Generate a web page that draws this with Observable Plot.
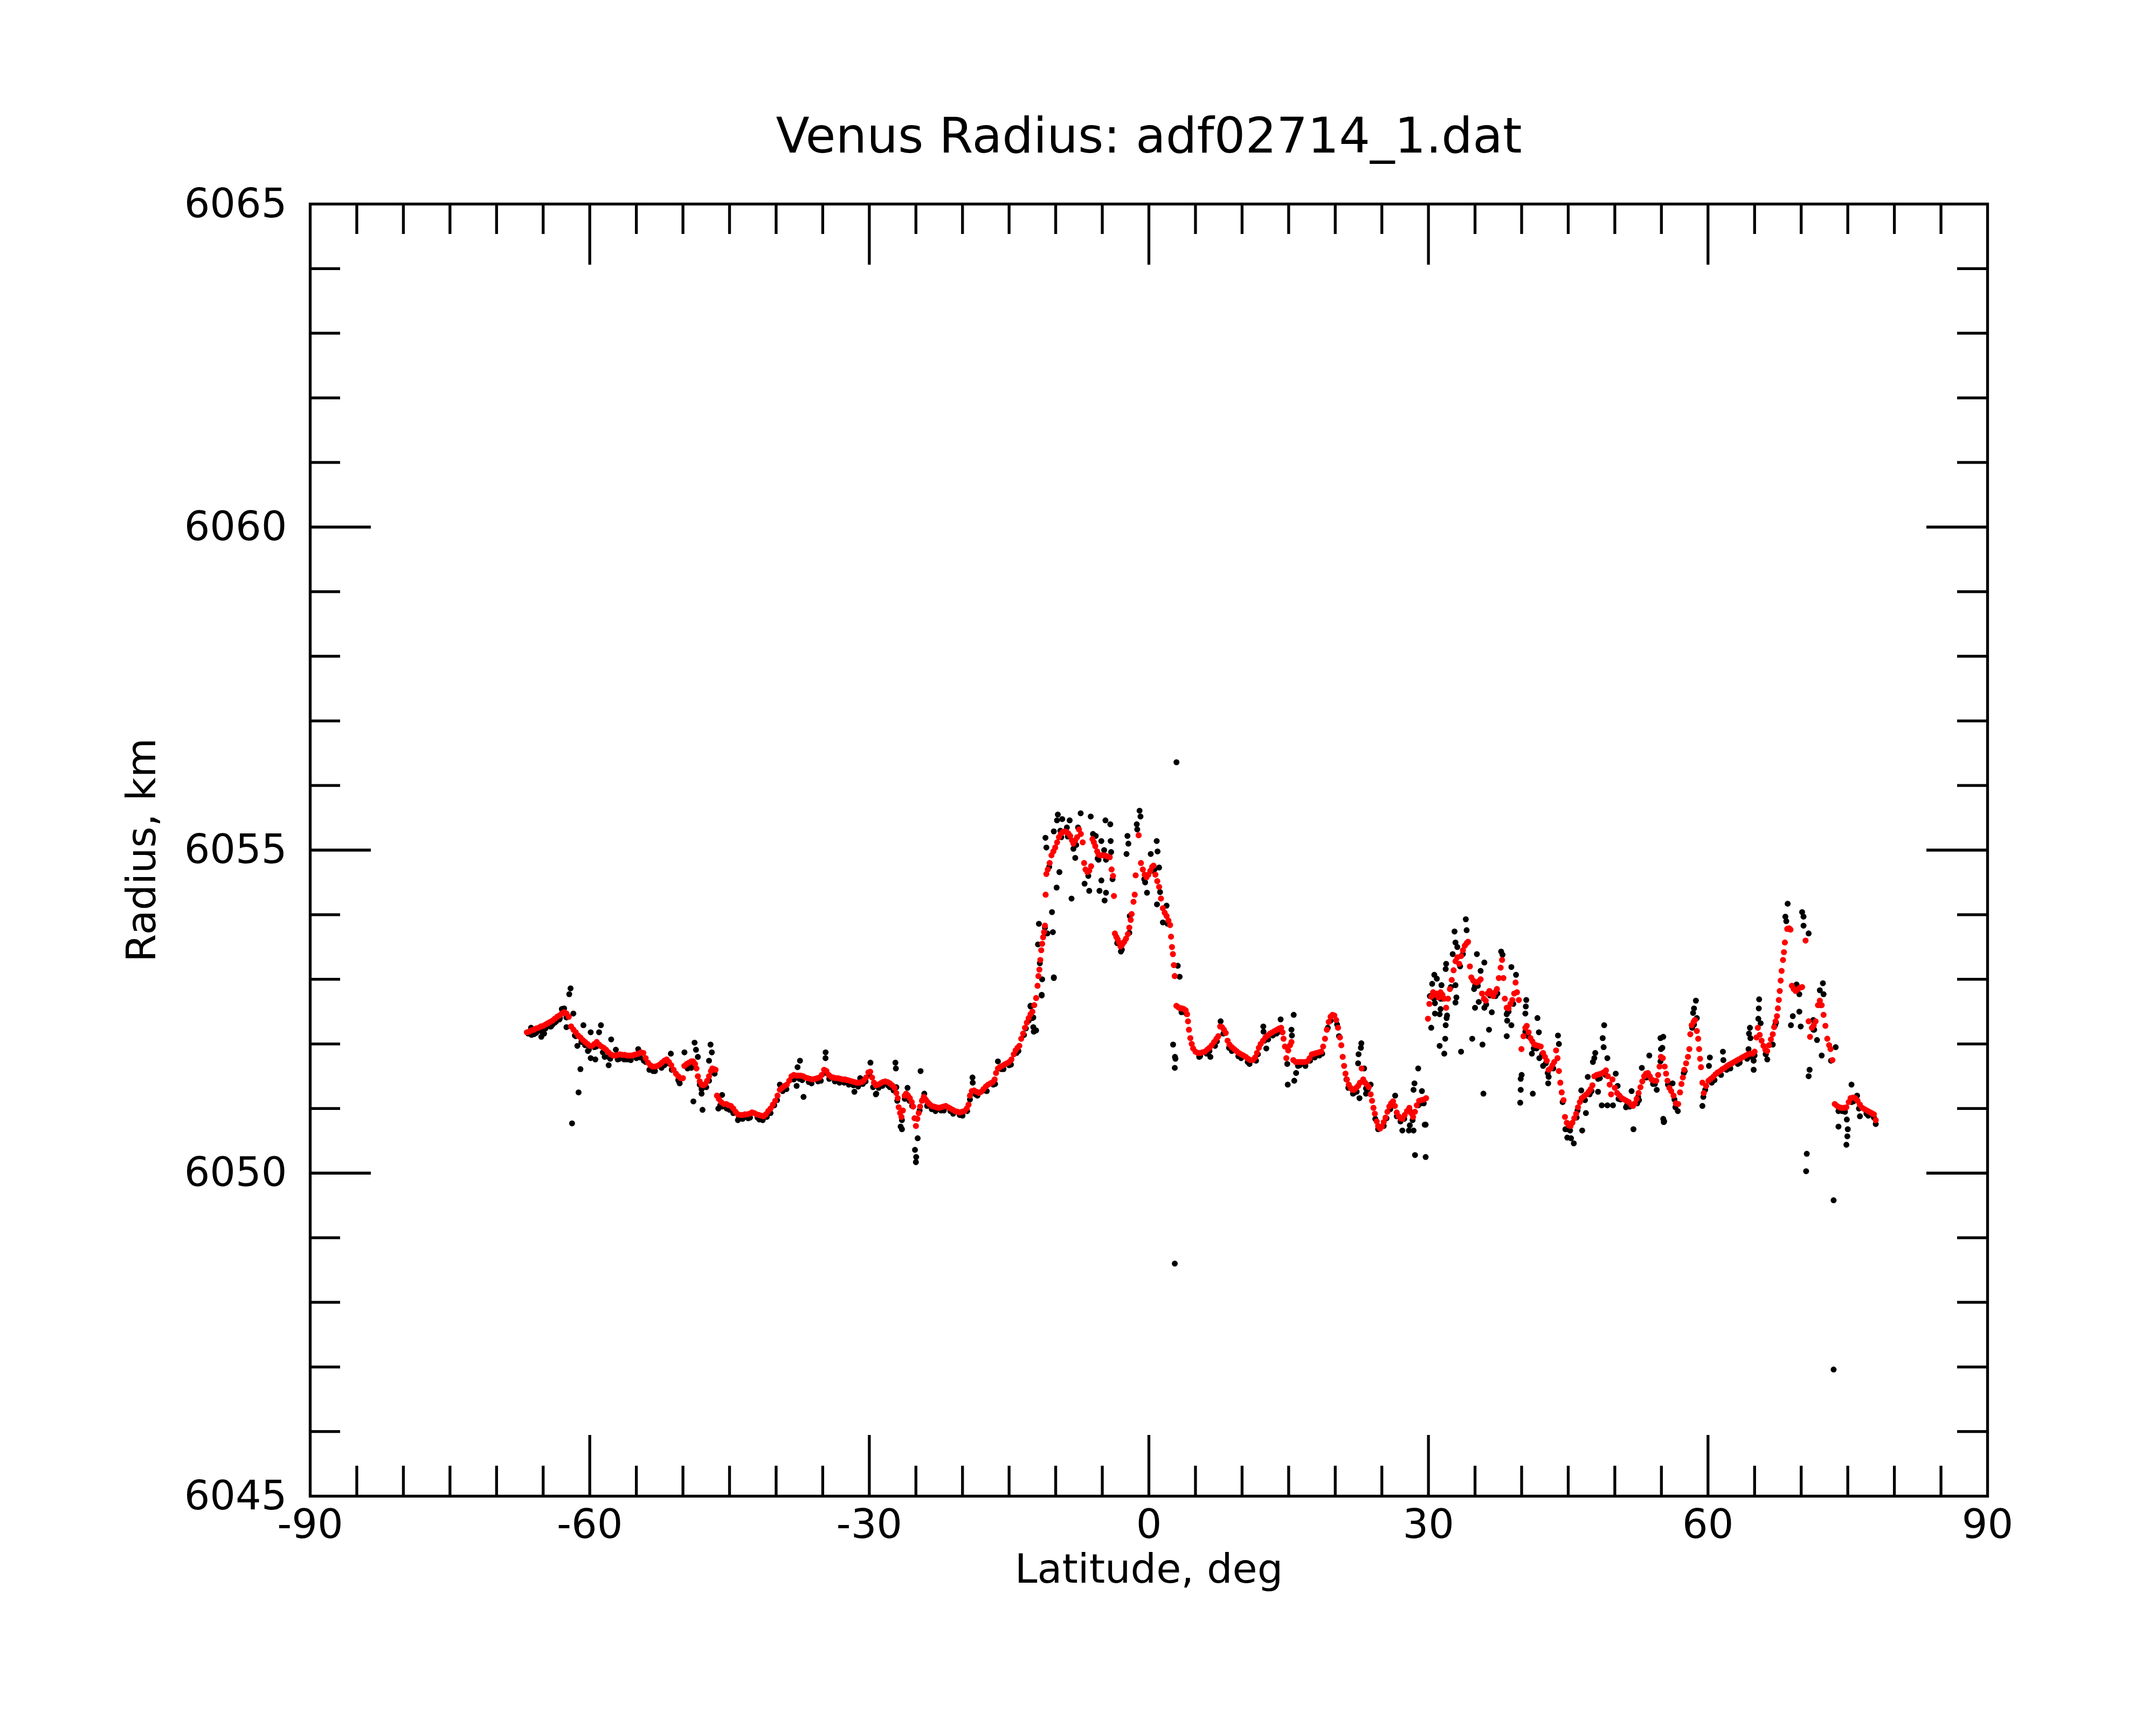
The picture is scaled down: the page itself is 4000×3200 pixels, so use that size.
<!DOCTYPE html>
<html><head><meta charset="utf-8">
<script src="https://cdn.jsdelivr.net/npm/d3@7"></script>
<script src="https://cdn.jsdelivr.net/npm/@observablehq/plot@0.6"></script>
<style>html,body{margin:0;padding:0;background:#fff;} svg{display:block}</style>
</head><body><div id="chart"></div>
<script>
const title = "Venus Radius: adf02714_1.dat";
const xLabel = "Latitude, deg";
const yLabel = "Radius, km";
const xTickLabels = [-90,-60,-30,0,30,60,90];
const yTickLabels = [6045,6050,6055,6060,6065];
const xMajorTicks = [-60,-30,0,30,60];
const xMinorTicks = [-85,-80,-75,-70,-65,-55,-50,-45,-40,-35,-25,-20,-15,-10,-5,5,10,15,20,25,35,40,45,50,55,65,70,75,80,85];
const yMajorTicks = [6050,6055,6060];
const yMinorTicks = [6046,6047,6048,6049,6051,6052,6053,6054,6056,6057,6058,6059,6061,6062,6063,6064];

// smoothed radius (red), [latitude, radius km]
const redSouth = [[-66.75,6052.18],[-66.5,6052.19],[-66.25,6052.21],[-66.0,6052.22],[-65.75,6052.24],[-65.5,6052.25],[-65.25,6052.27],[-65.0,6052.28],[-64.75,6052.30],[-64.5,6052.32],[-64.25,6052.34],[-64.0,6052.36],[-63.75,6052.39],[-63.5,6052.42],[-63.25,6052.44],[-63.0,6052.47],[-62.75,6052.49],[-62.5,6052.47],[-62.25,6052.42],[-62.0,6052.27],[-61.75,6052.22],[-61.5,6052.18],[-61.25,6052.13],[-61.0,6052.10],[-60.75,6052.06],[-60.5,6052.03],[-60.25,6052.00],[-60.0,6051.97],[-59.75,6051.97],[-59.5,6052.00],[-59.25,6052.03],[-59.0,6051.99],[-58.75,6051.96],[-58.5,6051.94],[-58.25,6051.91],[-58.0,6051.87],[-57.75,6051.84],[-57.5,6051.82],[-57.25,6051.82],[-57.0,6051.83],[-56.75,6051.84],[-56.5,6051.83],[-56.25,6051.83],[-56.0,6051.82],[-55.75,6051.82],[-55.5,6051.82],[-55.25,6051.83],[-55.0,6051.84],[-54.75,6051.85],[-54.5,6051.87],[-54.25,6051.86],[-54.0,6051.78],[-53.75,6051.71],[-53.5,6051.67],[-53.25,6051.65],[-53.0,6051.65],[-52.75,6051.66],[-52.5,6051.68],[-52.25,6051.71],[-52.0,6051.74],[-51.75,6051.76],[-51.5,6051.72],[-51.25,6051.67],[-51.0,6051.60],[-50.75,6051.54],[-50.5,6051.50],[-50.25,6051.47],[-50.0,6051.47],[-49.85,6051.66],[-49.6,6051.69],[-49.35,6051.71],[-49.1,6051.73],[-48.9,6051.73],[-48.7,6051.69],[-48.55,6051.62],[-48.4,6051.50],[-48.2,6051.42],[-48.0,6051.37],[-47.8,6051.36],[-47.6,6051.38],[-47.4,6051.43],[-47.2,6051.50],[-47.0,6051.58],[-46.85,6051.62],[-46.65,6051.61],[-46.5,6051.60],[-46.35,6051.20],[-46.15,6051.15],[-45.9,6051.10],[-45.6,6051.07],[-45.35,6051.07],[-45.1,6051.05],[-44.85,6051.04],[-44.6,6051.00],[-44.35,6050.95],[-44.1,6050.91],[-43.85,6050.90],[-43.6,6050.90],[-43.35,6050.91],[-43.1,6050.91],[-42.85,6050.92],[-42.6,6050.94],[-42.35,6050.93],[-42.1,6050.91],[-41.85,6050.90],[-41.6,6050.89],[-41.35,6050.88],[-41.1,6050.91],[-40.85,6050.96],[-40.6,6051.00],[-40.35,6051.06],[-40.1,6051.12],[-39.85,6051.20],[-39.6,6051.29],[-39.35,6051.32],[-39.1,6051.35],[-38.85,6051.37],[-38.6,6051.43],[-38.35,6051.50],[-38.1,6051.52],[-37.85,6051.51],[-37.6,6051.51],[-37.35,6051.51],[-37.1,6051.50],[-36.85,6051.48],[-36.6,6051.47],[-36.35,6051.46],[-36.1,6051.45],[-35.85,6051.46],[-35.6,6051.47],[-35.35,6051.48],[-35.1,6051.52],[-34.85,6051.60],[-34.6,6051.58],[-34.35,6051.52],[-34.1,6051.49],[-33.85,6051.48],[-33.6,6051.47],[-33.35,6051.47],[-33.1,6051.46],[-32.85,6051.45],[-32.6,6051.45],[-32.35,6051.44],[-32.1,6051.43],[-31.85,6051.42],[-31.6,6051.41],[-31.35,6051.40],[-31.1,6051.40],[-30.85,6051.41],[-30.6,6051.43],[-30.35,6051.48],[-30.1,6051.56],[-29.9,6051.57],[-29.7,6051.48],[-29.5,6051.40],[-29.3,6051.36],[-29.05,6051.37],[-28.8,6051.39],[-28.55,6051.41],[-28.3,6051.42],[-28.05,6051.41],[-27.8,6051.39],[-27.55,6051.36],[-27.3,6051.32],[-27.1,6051.24],[-26.95,6051.16],[-26.85,6051.02],[-26.7,6050.93],[-26.55,6050.87],[-26.4,6050.97],[-26.2,6051.20],[-26.05,6051.23],[-25.85,6051.20],[-25.65,6051.16],[-25.45,6051.10],[-25.3,6051.03],[-25.15,6050.85],[-25.0,6050.73],[-24.85,6050.84],[-24.7,6050.93],[-24.55,6051.03],[-24.35,6051.12],[-24.15,6051.18],[-23.95,6051.14],[-23.75,6051.10],[-23.55,6051.07],[-23.3,6051.04],[-23.05,6051.03],[-22.8,6051.02],[-22.55,6051.01],[-22.3,6051.02],[-22.05,6051.03],[-21.8,6051.04],[-21.55,6051.02],[-21.3,6051.00],[-21.05,6050.98],[-20.8,6050.96],[-20.55,6050.95],[-20.3,6050.94],[-20.05,6050.95],[-19.8,6050.96],[-19.55,6051.00],[-19.35,6051.06],[-19.2,6051.20],[-19.0,6051.27],[-18.75,6051.28],[-18.5,6051.26],[-18.25,6051.24],[-18.0,6051.26],[-17.75,6051.30],[-17.5,6051.34],[-17.25,6051.37],[-17.0,6051.39],[-16.75,6051.41],[-16.55,6051.45],[-16.4,6051.55],[-16.2,6051.62],[-16.0,6051.64],[-15.75,6051.66],[-15.5,6051.68],[-15.25,6051.70],[-15.0,6051.72],[-14.75,6051.76],[-14.5,6051.84],[-14.3,6051.90],[-14.1,6051.94],[-13.9,6051.97],[-13.7,6052.08],[-13.5,6052.16],[-13.3,6052.25],[-13.1,6052.33],[-12.9,6052.40],[-12.7,6052.46],[-12.5,6052.50]];

const redEquator = [[-12.3,6052.60],[-12.1,6052.71],[-11.95,6052.90],[-11.85,6053.05],[-11.75,6053.15],[-11.65,6053.30],[-11.55,6053.45],[-11.45,6053.55],[-11.35,6053.65],[-11.25,6053.73],[-11.15,6053.83],[-11.08,6054.31],[-11.0,6054.63],[-10.85,6054.70],[-10.65,6054.80],[-10.45,6054.92],[-10.25,6054.98],[-10.05,6055.04],[-9.85,6055.12],[-9.65,6055.20],[-9.45,6055.25],[-9.25,6055.28],[-9.05,6055.29],[-8.85,6055.28],[-8.65,6055.26],[-8.45,6055.22],[-8.25,6055.15],[-8.1,6055.10],[-7.9,6055.15],[-7.7,6055.20],[-7.5,6055.32],[-7.3,6055.25],[-7.1,6055.12],[-6.95,6054.80],[-6.8,6054.70],[-6.6,6054.66],[-6.4,6054.68],[-6.2,6054.75],[-6.05,6055.17],[-5.9,6055.12],[-5.75,6055.06],[-5.55,6054.98],[-5.4,6054.93],[-5.2,6054.92],[-5.0,6054.92],[-4.8,6054.92],[-4.6,6054.91],[-4.4,6054.90],[-4.2,6054.89],[-4.0,6054.70],[-3.85,6054.60],[-3.75,6054.29],[-3.65,6053.71],[-3.5,6053.66],[-3.35,6053.62],[-3.2,6053.57],[-3.05,6053.51],[-2.85,6053.54],[-2.65,6053.58],[-2.45,6053.63],[-2.25,6053.70],[-2.1,6053.80],[-1.95,6053.92],[-1.85,6054.01],[-1.65,6054.20],[-1.52,6054.31],[-1.42,6054.61],[-1.1,6055.23],[-0.85,6054.80],[-0.65,6054.70],[-0.45,6054.62],[-0.25,6054.58],[-0.05,6054.62],[0.15,6054.68],[0.35,6054.74],[0.5,6054.76],[0.7,6054.62],[0.9,6054.52],[1.1,6054.43],[1.3,6054.25],[1.5,6054.10],[1.7,6054.03],[1.9,6053.98],[2.1,6053.91],[2.28,6053.84],[2.38,6053.66],[2.48,6053.50],[2.58,6053.39],[2.68,6053.22],[2.77,6053.05],[2.95,6052.59],[3.15,6052.57],[3.35,6052.55],[3.55,6052.55],[3.75,6052.54],[3.95,6052.52],[4.1,6052.46],[4.2,6052.35],[4.3,6052.22],[4.45,6052.09],[4.6,6052.00],[4.75,6051.93],[5.0,6051.88]];

const redNorth = [[5.25,6051.86],[5.5,6051.86],[5.75,6051.87],[6.0,6051.88],[6.25,6051.91],[6.5,6051.94],[6.75,6051.98],[7.0,6052.03],[7.25,6052.08],[7.45,6052.12],[7.65,6052.27],[7.85,6052.26],[8.05,6052.22],[8.25,6052.17],[8.45,6052.05],[8.65,6051.99],[8.9,6051.95],[9.15,6051.92],[9.4,6051.89],[9.65,6051.86],[9.9,6051.84],[10.15,6051.82],[10.4,6051.80],[10.65,6051.77],[10.9,6051.75],[11.15,6051.75],[11.4,6051.79],[11.6,6051.86],[11.8,6051.94],[12.0,6052.00],[12.25,6052.05],[12.5,6052.10],[12.75,6052.13],[13.0,6052.16],[13.25,6052.18],[13.5,6052.20],[13.75,6052.22],[14.0,6052.24],[14.2,6052.25],[14.35,6052.18],[14.45,6052.08],[14.6,6051.96],[14.75,6051.78],[14.95,6051.90],[15.15,6051.98],[15.3,6052.03],[15.5,6051.75],[15.75,6051.72],[16.0,6051.72],[16.25,6051.72],[16.5,6051.72],[16.75,6051.72],[17.0,6051.73],[17.25,6051.78],[17.5,6051.84],[17.75,6051.85],[18.0,6051.86],[18.25,6051.87],[18.5,6051.88],[18.7,6051.96],[18.9,6052.08],[19.1,6052.22],[19.3,6052.34],[19.5,6052.42],[19.7,6052.45],[19.9,6052.44],[20.1,6052.37],[20.3,6052.25],[20.5,6052.10],[20.65,6051.98],[20.8,6051.80],[20.95,6051.66],[21.1,6051.54],[21.25,6051.45],[21.45,6051.37],[21.65,6051.32],[21.85,6051.29],[22.05,6051.29],[22.25,6051.32],[22.45,6051.35],[22.65,6051.40],[22.83,6051.62],[23.0,6051.45],[23.2,6051.40],[23.4,6051.37],[23.6,6051.33],[23.8,6051.22],[23.95,6051.12],[24.1,6051.01],[24.25,6050.92],[24.45,6050.80],[24.6,6050.73],[24.8,6050.69],[25.0,6050.72],[25.2,6050.79],[25.4,6050.86],[25.6,6050.95],[25.8,6051.03],[26.0,6051.08],[26.2,6051.11],[26.4,6051.04],[26.6,6050.94],[26.8,6050.88],[27.0,6050.85],[27.2,6050.84],[27.45,6050.90],[27.7,6050.96],[27.95,6051.01],[28.15,6050.93],[28.35,6050.87],[28.55,6050.95],[28.75,6051.05],[29.0,6051.12],[29.25,6051.13],[29.5,6051.14],[29.75,6051.16],[29.95,6052.39],[30.1,6052.62],[30.3,6052.73],[30.5,6052.80],[30.7,6052.76],[30.9,6052.78],[31.1,6052.72],[31.3,6052.80],[31.5,6052.76],[31.7,6052.70],[31.9,6052.56],[32.1,6052.70],[32.3,6052.85],[32.5,6052.99],[32.7,6053.14],[32.9,6053.28],[33.1,6053.34],[33.3,6053.24],[33.5,6053.36],[33.7,6053.45],[33.9,6053.52],[34.1,6053.56],[34.25,6053.58],[34.45,6053.20],[34.6,6053.03],[34.8,6052.98],[35.0,6052.96],[35.2,6052.95],[35.4,6052.97],[35.6,6053.00],[35.75,6052.78],[35.95,6052.70],[36.15,6052.67],[36.35,6052.78],[36.55,6052.82],[36.75,6052.77],[36.95,6052.74],[37.15,6052.80],[37.35,6052.85],[37.55,6053.02],[37.75,6053.18],[37.9,6053.30],[38.05,6053.02],[38.2,6052.70],[38.4,6052.56],[38.6,6052.55],[38.8,6052.62],[39.0,6052.68],[39.2,6052.78],[39.35,6052.95],[39.5,6052.80],[39.7,6052.68],[39.98,6051.92],[40.2,6052.12],[40.4,6052.25],[40.55,6052.28],[40.75,6052.18],[40.95,6052.09],[41.15,6052.04],[41.35,6051.99],[41.55,6051.98],[41.8,6051.97],[42.05,6051.96],[42.3,6051.86],[42.5,6051.80],[42.7,6051.74],[42.9,6051.60],[43.1,6051.62],[43.3,6051.67],[43.5,6051.72],[43.7,6051.90],[43.85,6051.78],[44.0,6051.58],[44.15,6051.40],[44.3,6051.25],[44.5,6051.13],[44.65,6050.87],[44.85,6050.78],[45.05,6050.74],[45.25,6050.73],[45.45,6050.78],[45.65,6050.85],[45.85,6050.92],[46.05,6051.02],[46.25,6051.10],[46.45,6051.16],[46.7,6051.19],[46.95,6051.22],[47.2,6051.26],[47.4,6051.30],[47.6,6051.36],[47.8,6051.50],[48.05,6051.52],[48.3,6051.53],[48.55,6051.54],[48.8,6051.56],[49.05,6051.59],[49.25,6051.50],[49.45,6051.37],[49.6,6051.22],[49.75,6051.45],[50.0,6051.32],[50.25,6051.24],[50.5,6051.20],[50.75,6051.16],[51.0,6051.14],[51.25,6051.12],[51.5,6051.10],[51.75,6051.06],[51.95,6051.04],[52.15,6051.08],[52.35,6051.15],[52.55,6051.24],[52.75,6051.33],[52.95,6051.42],[53.15,6051.50],[53.35,6051.54],[53.55,6051.55],[53.75,6051.50],[53.95,6051.45],[54.2,6051.43],[54.45,6051.43],[54.65,6051.52],[54.8,6051.65],[54.95,6051.80],[55.15,6051.78],[55.35,6051.65],[55.5,6051.54],[55.65,6051.43],[55.85,6051.32],[56.05,6051.27],[56.3,6051.20],[56.55,6051.08],[56.8,6051.07],[57.0,6051.25],[57.15,6051.38],[57.3,6051.48],[57.45,6051.60],[57.65,6051.70],[57.85,6051.80],[58.0,6051.92],[58.1,6052.15],[58.25,6052.29],[58.45,6052.34],[58.6,6052.37],[58.8,6052.20],[58.95,6052.08],[59.05,6051.92],[59.15,6051.77],[59.25,6051.64],[59.4,6051.40],[59.55,6051.24],[59.8,6051.35],[60.05,6051.43],[60.3,6051.46],[60.55,6051.49],[60.8,6051.53],[61.05,6051.56],[61.3,6051.58],[61.55,6051.61],[61.8,6051.63],[62.05,6051.66],[62.3,6051.68],[62.55,6051.70],[62.8,6051.72],[63.05,6051.74],[63.3,6051.76],[63.55,6051.78],[63.8,6051.80],[64.05,6051.82],[64.3,6051.84],[64.55,6051.85],[64.8,6051.85],[65.0,6051.88],[65.2,6052.10],[65.35,6052.25],[65.55,6052.14],[65.75,6052.05],[65.95,6051.97],[66.15,6051.91],[66.35,6051.89],[66.55,6051.98],[66.75,6052.07],[66.95,6052.15],[67.1,6052.26],[67.25,6052.35],[67.4,6052.43],[67.5,6052.55],[67.6,6052.68],[67.7,6052.82],[67.8,6052.98],[67.9,6053.13],[68.05,6053.30],[68.15,6053.42],[68.25,6053.57],[68.5,6053.78],[68.7,6053.79],[68.85,6053.77],[69.0,6052.90],[69.2,6052.85],[69.4,6052.82],[69.6,6052.84],[69.85,6052.87],[70.1,6052.88],[70.47,6053.60],[70.8,6052.35],[70.95,6052.11],[71.15,6052.25],[71.35,6052.29],[71.55,6052.35],[71.8,6052.60],[72.0,6052.67],[72.2,6052.60],[72.4,6052.45],[72.6,6052.28],[72.8,6052.08],[73.0,6051.98],[73.15,6051.92],[73.35,6051.75],[73.6,6051.07],[73.85,6051.04],[74.1,6051.02],[74.35,6051.01],[74.6,6051.01],[74.85,6051.02],[75.1,6051.10],[75.3,6051.16],[75.55,6051.17],[75.8,6051.16],[76.05,6051.12],[76.3,6051.06],[76.55,6051.01],[76.8,6050.99],[77.05,6050.97],[77.3,6050.95],[77.55,6050.93],[77.8,6050.91],[78.0,6050.82]];

// raw radius (black), [latitude, radius km]
const rawSouth = [[-66.6,6052.16],[-66.3,6052.25],[-66.0,6052.15],[-65.2,6052.11],[-65.0,6052.22],[-64.9,6052.16],[-64.15,6052.27],[-64.0,6052.30],[-63.6,6052.35],[-63.2,6052.40],[-63.0,6052.54],[-62.75,6052.55],[-62.2,6052.77],[-62.06,6052.86],[-61.76,6052.47],[-62.5,6052.26],[-61.5,6052.12],[-60.68,6052.29],[-60.5,6051.98],[-59.9,6052.18],[-61.33,6051.97],[-61.0,6051.61],[-61.2,6051.25],[-61.9,6050.77],[-58.8,6052.29],[-59.0,6052.18],[-60.2,6051.89],[-59.9,6051.78],[-59.5,6051.95],[-59.4,6051.76],[-58.0,6051.80],[-57.7,6052.07],[-58.4,6051.80],[-57.97,6051.67],[-57.2,6051.91],[-57.0,6051.78],[-57.0,6051.76],[-56.0,6051.76],[-55.0,6051.78],[-54.8,6051.92],[-54.2,6051.74],[-54.0,6051.72],[-53.2,6051.58],[-52.3,6051.63],[-51.6,6051.70],[-51.3,6051.85],[-50.5,6051.44],[-50.35,6051.39],[-49.84,6051.87],[-49.3,6051.65],[-48.75,6052.02],[-48.6,6051.91],[-48.4,6051.80],[-49.1,6051.63],[-48.88,6051.11],[-48.2,6051.37],[-47.9,6050.98],[-48.0,6051.23],[-47.5,6051.33],[-47.04,6051.99],[-46.9,6051.87],[-47.2,6051.74],[-46.7,6051.56],[-45.8,6051.21],[-45.8,6051.03],[-46.2,6051.00],[-45.0,6050.98],[-44.1,6050.82],[-44.0,6050.85],[-43.0,6050.85],[-42.0,6050.86],[-41.44,6050.82],[-41.0,6050.87],[-40.2,6051.05],[-39.6,6051.37],[-39.3,6051.27],[-38.4,6051.45],[-37.44,6051.74],[-37.7,6051.64],[-37.8,6051.35],[-37.5,6051.46],[-37.06,6051.18],[-36.5,6051.41],[-35.5,6051.42],[-34.8,6051.55],[-34.69,6051.87],[-34.7,6051.78],[-33.7,6051.42],[-32.7,6051.40],[-31.7,6051.36],[-31.6,6051.26],[-30.98,6051.47],[-30.7,6051.38],[-30.0,6051.52],[-29.88,6051.71],[-29.3,6051.22],[-29.25,6051.23],[-29.0,6051.32],[-28.0,6051.36],[-27.4,6051.28],[-27.2,6051.71],[-27.15,6051.62],[-27.1,6051.33],[-26.64,6050.72],[-26.5,6050.68],[-26.5,6050.82],[-25.9,6051.32],[-25.7,6051.12],[-25.1,6050.36],[-25.0,6050.17],[-24.97,6050.25],[-24.81,6050.54],[-24.5,6051.58],[-24.3,6051.13],[-24.1,6051.23],[-23.3,6050.99],[-22.3,6050.97],[-21.3,6050.96],[-20.3,6050.90],[-19.5,6050.96],[-18.93,6051.48],[-18.9,6051.40],[-18.6,6051.22],[-17.6,6051.28],[-16.7,6051.37],[-16.2,6051.73],[-16.1,6051.62],[-15.8,6051.61],[-15.0,6051.67],[-14.2,6051.86],[-13.4,6052.14],[-12.9,6052.36],[-12.7,6052.58],[-12.7,6052.59],[-12.5,6052.40],[-12.4,6052.26],[-12.4,6052.41],[-12.35,6052.19],[-12.1,6052.21]];

const rawEquator = [[-11.9,6053.54],[-11.8,6053.86],[-11.7,6053.25],[-11.5,6052.75],[-11.5,6052.76],[-11.45,6053.00],[-11.15,6053.80],[-11.1,6055.19],[-11.0,6055.04],[-10.9,6053.71],[-10.7,6054.74],[-10.4,6054.04],[-10.3,6053.73],[-10.2,6053.03],[-10.2,6053.02],[-10.2,6055.29],[-9.9,6054.42],[-9.86,6055.46],[-9.77,6055.55],[-9.6,6054.66],[-9.5,6055.30],[-9.4,6055.20],[-9.3,6055.48],[-8.8,6055.35],[-8.7,6055.21],[-8.5,6055.46],[-8.3,6054.25],[-8.1,6055.02],[-7.9,6054.88],[-7.8,6055.08],[-7.6,6055.35],[-7.32,6055.57],[-6.9,6054.48],[-6.5,6054.60],[-6.4,6054.37],[-6.24,6055.52],[-6.0,6055.25],[-5.7,6055.22],[-5.5,6054.87],[-5.4,6054.85],[-5.3,6054.37],[-5.1,6054.53],[-5.1,6055.14],[-4.8,6055.00],[-4.75,6054.22],[-4.66,6055.46],[-4.6,6054.34],[-4.6,6054.85],[-4.14,6055.40],[-4.1,6055.14],[-4.05,6054.97],[-3.9,6054.55],[-3.4,6053.56],[-3.0,6053.43],[-2.9,6053.46],[-2.4,6054.94],[-2.3,6055.22],[-2.2,6055.10],[-2.1,6053.72],[-2.05,6053.98],[-1.3,6055.40],[-1.25,6055.32],[-1.0,6055.61],[-0.9,6055.52],[-0.5,6054.55],[-0.4,6054.50],[-0.2,6054.34],[0.2,6054.94],[0.3,6054.68],[0.6,6054.70],[0.84,6055.14],[0.87,6054.16],[0.93,6054.98],[1.1,6054.73],[1.2,6054.35],[1.5,6053.88],[1.9,6054.14],[2.0,6053.86],[2.6,6051.99],[2.78,6048.60],[2.78,6051.63],[2.8,6051.80],[2.85,6051.77],[2.96,6056.36],[3.1,6053.21],[3.3,6053.04],[3.5,6052.49],[4.0,6052.47]];

const rawNorth = [[5.5,6051.81],[6.5,6051.89],[6.6,6051.80],[7.3,6052.04],[7.7,6052.35],[8.6,6051.94],[9.6,6051.81],[10.6,6051.72],[11.5,6051.74],[12.28,6052.27],[12.3,6052.19],[12.4,6052.05],[12.6,6051.93],[13.3,6052.13],[14.0,6052.19],[14.14,6052.38],[14.85,6051.69],[14.9,6051.37],[15.3,6052.22],[15.35,6052.13],[15.54,6052.45],[15.6,6051.43],[15.8,6051.55],[16.2,6051.67],[17.3,6051.74],[18.3,6051.82],[19.2,6052.25],[20.4,6052.12],[21.4,6051.32],[22.0,6051.24],[22.45,6051.70],[22.5,6051.84],[22.6,6051.16],[22.75,6051.94],[22.8,6052.01],[23.1,6051.62],[23.3,6051.23],[23.5,6051.30],[23.8,6051.37],[24.6,6050.68],[25.5,6050.85],[26.1,6051.06],[26.43,6051.20],[27.0,6050.80],[27.2,6050.66],[27.9,6050.66],[28.0,6050.74],[28.0,6050.96],[28.4,6050.66],[28.4,6051.29],[28.5,6051.39],[28.56,6050.28],[28.9,6051.62],[29.2,6051.08],[29.3,6051.27],[29.6,6050.75],[29.7,6050.25],[29.7,6050.75],[30.15,6052.74],[30.3,6052.25],[30.4,6052.93],[30.6,6052.70],[30.63,6053.07],[30.7,6052.63],[30.7,6052.47],[30.9,6053.01],[31.2,6052.46],[31.2,6051.97],[31.3,6052.54],[31.3,6052.70],[31.4,6052.91],[31.7,6051.85],[31.8,6052.08],[31.85,6052.29],[31.85,6053.16],[31.9,6053.24],[31.95,6052.40],[32.0,6052.44],[32.6,6053.39],[32.8,6053.74],[32.9,6053.57],[32.9,6052.91],[32.9,6052.64],[33.0,6052.72],[33.1,6053.50],[33.4,6053.20],[33.5,6051.88],[34.01,6053.93],[34.1,6053.76],[34.7,6052.08],[34.9,6052.85],[35.0,6052.56],[35.2,6053.39],[35.3,6052.90],[35.4,6052.65],[35.6,6053.13],[35.8,6051.99],[35.9,6051.23],[36.0,6053.26],[36.0,6052.56],[36.5,6052.22],[36.6,6052.75],[36.8,6052.49],[37.4,6052.78],[37.8,6053.43],[37.95,6053.38],[38.4,6052.46],[38.45,6052.36],[38.4,6052.12],[38.6,6052.50],[38.9,6053.19],[38.9,6052.29],[39.4,6053.07],[39.85,6051.09],[39.9,6051.46],[39.9,6051.29],[40.0,6051.52],[40.4,6052.47],[40.45,6052.58],[40.5,6052.68],[40.7,6052.12],[41.1,6051.85],[41.2,6051.23],[41.6,6051.93],[41.7,6052.40],[41.85,6052.18],[41.9,6051.78],[42.3,6051.66],[42.6,6051.70],[42.85,6051.39],[42.9,6051.49],[43.4,6051.62],[43.9,6052.13],[44.0,6052.00],[44.7,6050.68],[44.9,6050.55],[45.0,6050.68],[45.3,6050.54],[45.6,6050.46],[46.0,6050.97],[46.4,6051.28],[46.5,6050.66],[46.9,6050.93],[47.1,6051.49],[47.3,6051.22],[47.65,6051.72],[47.8,6051.78],[47.9,6051.86],[48.2,6051.26],[48.4,6051.47],[48.6,6051.05],[48.7,6052.09],[48.8,6051.95],[48.86,6052.29],[49.2,6051.78],[49.2,6051.05],[49.8,6051.05],[50.1,6051.54],[50.3,6051.35],[50.6,6051.14],[51.2,6051.02],[51.6,6051.03],[51.8,6051.27],[52.0,6050.68],[52.4,6051.08],[52.6,6051.13],[52.9,6051.63],[53.4,6051.48],[53.7,6051.82],[54.3,6051.38],[54.5,6051.29],[54.9,6052.09],[54.95,6051.92],[55.1,6051.94],[55.2,6052.11],[55.2,6050.84],[55.25,6050.79],[55.3,6050.80],[56.2,6051.39],[56.4,6051.14],[56.76,6050.96],[57.4,6051.55],[58.3,6052.25],[58.4,6052.48],[58.5,6052.55],[58.7,6052.67],[58.8,6052.40],[59.4,6051.04],[59.5,6051.18],[60.1,6051.66],[60.2,6051.79],[60.7,6051.44],[61.6,6051.88],[61.65,6051.75],[62.0,6051.60],[63.4,6051.71],[64.35,6051.92],[64.4,6052.16],[64.5,6052.25],[64.55,6052.09],[64.7,6051.80],[64.9,6051.74],[64.9,6051.60],[65.4,6052.39],[65.45,6052.55],[65.49,6052.69],[65.65,6052.32],[66.2,6051.84],[66.36,6051.76],[66.95,6051.99],[67.3,6052.33],[68.3,6053.97],[68.4,6053.90],[68.55,6054.17],[68.9,6052.29],[69.1,6052.43],[69.5,6052.92],[69.8,6052.77],[69.8,6052.50],[69.95,6052.27],[70.1,6054.04],[70.25,6053.97],[70.25,6053.83],[70.53,6050.03],[70.6,6050.30],[70.8,6053.71],[70.8,6051.50],[70.9,6051.60],[71.3,6052.37],[71.4,6052.22],[71.7,6052.06],[72.0,6052.83],[72.2,6051.82],[72.33,6052.94],[72.4,6052.77],[73.2,6051.74],[73.48,6049.58],[73.48,6046.96],[73.7,6051.95],[74.0,6050.72],[74.4,6050.96],[74.85,6050.44],[74.9,6050.83],[74.95,6050.57],[75.0,6050.68],[75.4,6051.37],[75.6,6051.11],[76.0,6051.20],[76.3,6050.88],[77.0,6050.92],[77.8,6050.86]];

// raw points lying just under the smoothed curve
const rawAlongCurve = [[-66.25,6052.14],[-65.75,6052.17],[-65.25,6052.20],[-64.75,6052.24],[-64.25,6052.27],[-63.75,6052.33],[-63.25,6052.38],[-62.5,6052.41],[-61.6,6052.13],[-60.9,6052.03],[-60.1,6051.91],[-59.3,6051.96],[-58.6,6051.87],[-57.8,6051.77],[-56.8,6051.77],[-56.3,6051.76],[-55.6,6051.75],[-54.6,6051.79],[-53.6,6051.60],[-53.0,6051.58],[-52.0,6051.67],[-51.2,6051.60],[-50.4,6051.41],[-49.5,6051.62],[-48.9,6051.66],[-48.0,6051.30],[-47.2,6051.43],[-46.6,6051.54],[-46.0,6051.05],[-45.3,6051.00],[-44.6,6050.93],[-43.6,6050.84],[-42.8,6050.86],[-41.8,6050.83],[-40.6,6050.93],[-39.9,6051.13],[-38.9,6051.30],[-38.1,6051.45],[-37.2,6051.44],[-36.2,6051.39],[-35.2,6051.43],[-34.3,6051.46],[-33.2,6051.40],[-32.2,6051.37],[-31.2,6051.34],[-30.4,6051.42],[-29.6,6051.33],[-28.6,6051.35],[-27.8,6051.33],[-27.0,6051.12],[-26.2,6051.15],[-25.4,6051.04],[-24.6,6050.97],[-23.8,6051.04],[-22.9,6050.96],[-22.0,6050.97],[-21.0,6050.92],[-20.0,6050.89],[-19.2,6051.14],[-18.4,6051.20],[-17.4,6051.27],[-16.5,6051.38],[-15.6,6051.61],[-14.8,6051.68],[-14.0,6051.89],[-13.2,6052.24],[5.4,6051.80],[6.2,6051.85],[7.1,6051.97],[8.0,6052.16],[8.9,6051.89],[9.9,6051.78],[10.8,6051.69],[11.7,6051.84],[12.8,6052.07],[13.7,6052.16],[16.0,6051.66],[16.8,6051.66],[17.8,6051.79],[18.6,6051.85],[19.5,6052.36],[20.2,6052.30],[21.2,6051.45],[21.9,6051.23],[22.3,6051.26],[23.3,6051.31],[24.3,6050.84],[25.2,6050.73],[25.9,6050.99],[26.6,6050.88],[27.4,6050.84],[28.3,6050.82],[28.9,6051.05],[29.5,6051.08],[30.5,6052.74],[31.5,6052.70],[32.4,6052.88],[33.7,6053.39],[35.0,6052.90],[36.2,6052.61],[37.2,6052.74],[38.5,6052.49],[39.1,6052.62],[40.4,6052.19],[41.3,6051.93],[42.2,6051.84],[42.8,6051.55],[44.4,6051.10],[45.2,6050.66],[45.9,6050.86],[46.8,6051.13],[47.5,6051.27],[48.2,6051.46],[49.0,6051.52],[50.4,6051.15],[51.3,6051.05],[52.5,6051.18],[53.5,6051.49],[54.1,6051.38],[54.9,6051.73],[55.7,6051.37],[56.5,6051.02],[57.5,6051.58],[58.5,6052.30],[59.7,6051.29],[60.4,6051.40],[61.4,6051.52],[62.4,6051.62],[63.2,6051.69],[64.2,6051.77],[65.0,6051.82],[66.2,6051.84],[67.2,6052.29],[71.3,6052.22],[72.1,6052.60],[74.0,6050.96],[74.7,6050.95],[75.4,6051.10],[76.2,6051.00],[77.2,6050.89],[78.0,6050.76]];

const W = 4000, H = 3200;
const mL = 575, mR = 313, mT = 378, mB = 425;
const plotW = W - mL - mR, plotH = H - mT - mB;
const minorLen = 56, majorLen = 113, lw = 5.3;
const font = "DejaVu Sans";

const raw = [...rawSouth, ...rawEquator, ...rawNorth, ...rawAlongCurve];
const red = [...redSouth, ...redEquator, ...redNorth];

const chart = Plot.plot({
  width: W, height: H,
  marginLeft: mL, marginRight: mR, marginTop: mT, marginBottom: mB,
  style: {fontFamily: font, background: "#fff", color: "#000", overflow: "visible"},
  x: {domain: [-90, 90]},
  y: {domain: [6045, 6065]},
  marks: [
    Plot.dot(raw, {x: d => d[0], y: d => d[1], r: 5.5, fill: "#000"}),
    Plot.dot(red, {x: d => d[0], y: d => d[1], r: 5.6, fill: "#ff0000"}),
    Plot.tickX(xMinorTicks, {x: d => d, insetTop: plotH - minorLen, stroke: "#000", strokeWidth: lw}),
    Plot.tickX(xMinorTicks, {x: d => d, insetBottom: plotH - minorLen, stroke: "#000", strokeWidth: lw}),
    Plot.tickX(xMajorTicks, {x: d => d, insetTop: plotH - majorLen, stroke: "#000", strokeWidth: lw}),
    Plot.tickX(xMajorTicks, {x: d => d, insetBottom: plotH - majorLen, stroke: "#000", strokeWidth: lw}),
    Plot.tickY(yMinorTicks, {y: d => d, insetRight: plotW - minorLen, stroke: "#000", strokeWidth: lw}),
    Plot.tickY(yMinorTicks, {y: d => d, insetLeft: plotW - minorLen, stroke: "#000", strokeWidth: lw}),
    Plot.tickY(yMajorTicks, {y: d => d, insetRight: plotW - majorLen, stroke: "#000", strokeWidth: lw}),
    Plot.tickY(yMajorTicks, {y: d => d, insetLeft: plotW - majorLen, stroke: "#000", strokeWidth: lw}),
    Plot.frame({stroke: "#000", strokeWidth: lw}),
    Plot.axisX({ticks: xTickLabels, tickSize: 0, tickPadding: 24, fontSize: 75, tickFormat: d => String(d), label: null, fill: "#000"}),
    Plot.axisY({ticks: yTickLabels, tickSize: 0, tickPadding: 43, fontSize: 75, tickFormat: d => String(d), label: null, fill: "#000"}),
    Plot.text([title], {frameAnchor: "top", dy: -96, lineAnchor: "bottom", textAnchor: "middle", fontSize: 91, fill: "#000"}),
    Plot.text([xLabel], {frameAnchor: "bottom", dy: 160, lineAnchor: "bottom", textAnchor: "middle", fontSize: 75, fill: "#000"}),
    Plot.text([yLabel], {frameAnchor: "left", dx: -312, rotate: -90, lineAnchor: "middle", textAnchor: "middle", fontSize: 75, fill: "#000"})
  ]
});
document.getElementById("chart").appendChild(chart);
</script>
</body></html>
